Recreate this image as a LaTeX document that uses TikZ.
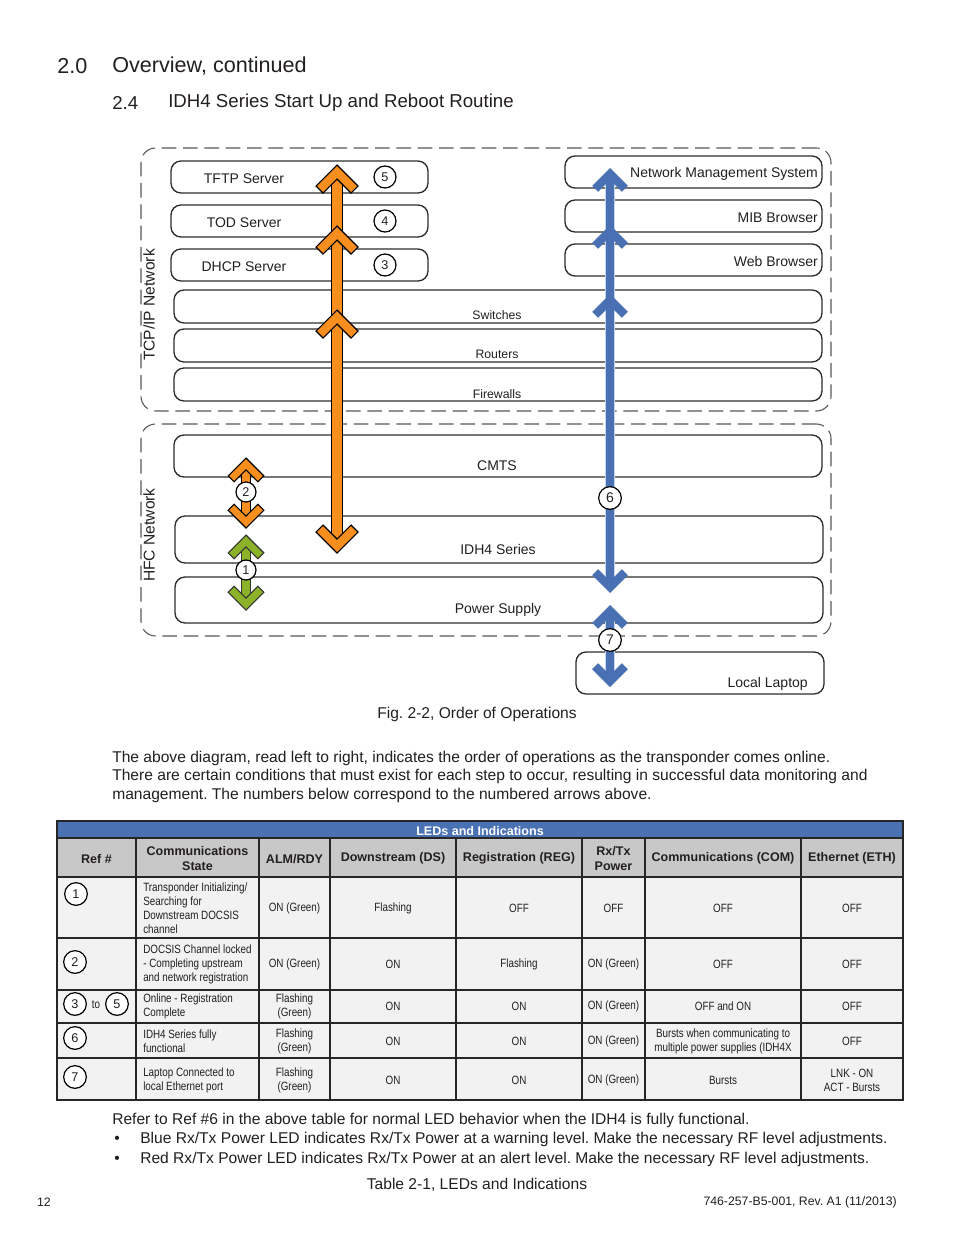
\documentclass[tikz,border=0pt]{standalone}
\usepackage{fontspec}
\setmainfont{Liberation Sans}
\newfontfamily\narrowfont[FakeStretch=0.82]{Liberation Sans}
\usetikzlibrary{positioning,fit}
\frenchspacing

\definecolor{txt}{RGB}{35,31,32}
\definecolor{boxline}{RGB}{45,45,45}
\definecolor{arrorange}{RGB}{247,142,30}
\definecolor{arrblue}{RGB}{73,112,178}
\definecolor{haloblue}{RGB}{198,214,236}
\definecolor{arrgreen}{RGB}{140,178,42}
\definecolor{tblblue}{RGB}{74,113,178}
\definecolor{tblhead}{RGB}{200,200,200}
\definecolor{tblbody}{RGB}{242,242,242}

\newcommand\fhead{\fontsize{16.2}{19}\selectfont}
\newcommand\fsub{\fontsize{14}{17}\selectfont}
\newcommand\fbody{\fontsize{11.7}{14}\selectfont}
\newcommand\fboxt{\fontsize{10.5}{12.6}\selectfont}
\newcommand\fsmall{\fontsize{9.2}{11}\selectfont}
\newcommand\fnum{\fontsize{9.5}{11}\selectfont}
\newcommand\fth{\fontsize{9.4}{11.25}\selectfont\bfseries}
\newcommand\ftd{\narrowfont\fontsize{9}{10.5}\selectfont}

\begin{document}
\begin{tikzpicture}[x=0.75pt,y=-0.75pt,text=txt,inner sep=0pt]
\tikzset{
  region/.style={draw=txt!75,line width=0.8pt,dash pattern=on 11pt off 5pt,rounded corners=11pt,inner sep=0pt},
  box/.style={draw=boxline,line width=1pt,rounded corners=7.5pt,inner sep=0pt},
  lower/.style={yshift=-1.2pt},
  boxlabel/.style={font=\fboxt,lower},
  layerlabel/.style={font=\fsmall,lower},
  netlabel/.style={font=\fbody,rotate=90},
  numcirc/.style={circle,draw=black,fill=white,line width=0.9pt,minimum size=16.5pt,inner sep=0pt,font=\fnum},
  chev/.pic={\path[pic actions] (0,0) -- (21,21) -- (14,28) -- (0,14) -- (-14,28) -- (-21,21) -- cycle;},
  ochev/.style={fill=arrorange,draw=black,line width=0.8pt},
  gchev/.style={fill=arrgreen,draw=black!80,line width=0.8pt},
  bchev/.style={fill=arrblue,preaction={draw=haloblue,line width=3pt}},
  oshaft/.style={draw=black,line width=0.75pt,double=arrorange,double distance=7pt},
  gshaft/.style={draw=black!80,line width=0.75pt,double=arrgreen,double distance=6pt},
  bshaft/.style={draw=haloblue,line width=1pt,double=arrblue,double distance=6pt},
  tblline/.style={draw=black!85,line width=0.8pt},
  thead/.style={font=\fth,align=center,lower},
  tcell/.style={font=\ftd,align=center,lower},
  body/.style={font=\fbody,anchor=west,lower}
}
\path[fill=white] (0,0) rectangle (954,1235);

% headings
\node[anchor=west,font=\fhead,lower] (secnum) at (57,64) {2.0};
\node[anchor=west,font=\fhead,lower] (sectitle) at (112,64) {Overview, continued};
\node[anchor=west,font=\fsub,lower] (subnum) at (112,101) {2.4};
\node[anchor=west,font=\fsub,lower] (subtitle) at (168,101) {IDH4 Series Start Up and Reboot Routine};

% network regions
\node[region,fit={(141,148) (831,411)}] (tcpip) {};
\node[region,fit={(141,424) (831,636)}] (hfc) {};
\node[netlabel] (tcpip-t) at (149,305) {TCP/IP Network};
\node[netlabel] (hfc-t) at (149,535) {HFC Network};

% boxes
\node[box,fit={(171,161) (428,193)}] (tftp) {};
\node[box,fit={(171,205) (428,237)}] (tod) {};
\node[box,fit={(171,249) (428,281)}] (dhcp) {};
\node[box,fit={(565,156) (822,188)}] (nms) {};
\node[box,fit={(565,200) (822,232)}] (mib) {};
\node[box,fit={(565,244) (822,276)}] (web) {};
\node[box,fit={(174,290) (822,323)}] (switches) {};
\node[box,fit={(174,329) (822,362)}] (routers) {};
\node[box,fit={(174,368) (822,401)}] (firewalls) {};
\node[box,fit={(174,435) (822,477)}] (cmts) {};
\node[box,fit={(175,516) (823,563)}] (idh) {};
\node[box,fit={(175,577) (823,623)}] (psu) {};
\node[box,fit={(576,652) (824,694)}] (laptop) {};

\node[boxlabel] (tftp-t) at (244,177) {TFTP Server};
\node[boxlabel] (tod-t) at (244,221) {TOD Server};
\node[boxlabel] (dhcp-t) at (244,265) {DHCP Server};
\node[boxlabel,anchor=east] (nms-t) at (818,172) {Network Management System};
\node[boxlabel,anchor=east] (mib-t) at (818,216) {MIB Browser};
\node[boxlabel,anchor=east] (web-t) at (818,260) {Web Browser};
\node[layerlabel] (switches-t) at (497,314) {Switches};
\node[layerlabel] (routers-t) at (497,353) {Routers};
\node[layerlabel] (firewalls-t) at (497,393) {Firewalls};
\node[boxlabel] (cmts-t) at (497,464) {CMTS};
\node[boxlabel] (idh-t) at (498,548) {IDH4 Series};
\node[boxlabel] (psu-t) at (498,608) {Power Supply};
\node[boxlabel,anchor=east] (laptop-t) at (808,682) {Local Laptop};
\node[numcirc] (n5) at (385,177) {5};
\node[numcirc] (n4) at (385,221) {4};
\node[numcirc] (n3) at (385,265) {3};

% orange arrow: IDH4 up to servers
\coordinate (o5) at (337,165);
\coordinate (o4) at (337,226);
\coordinate (o3) at (337,310);
\coordinate (oend) at (337,553);
\draw[oshaft] ([yshift=7.5pt]oend) -- ([yshift=-7.5pt]o5);
\foreach \c in {o5,o4,o3} \pic[ochev] at (\c) {chev};
\pic[ochev,rotate=180] at (oend) {chev};

% step 2 and step 1
\coordinate (o2up) at (246,458);
\coordinate (o2dn) at (246,528);
\draw[oshaft,double distance=6pt] ([yshift=-7pt]o2up) -- ([yshift=7pt]o2dn);
\pic[ochev,scale=0.85] at (o2up) {chev};
\pic[ochev,scale=0.85,rotate=180] at (o2dn) {chev};
\node[numcirc,minimum size=15pt] (n2) at (246,492) {2};
\coordinate (g1up) at (246,535);
\coordinate (g1dn) at (246,610);
\draw[gshaft] ([yshift=-7pt]g1up) -- ([yshift=7pt]g1dn);
\pic[gchev,scale=0.85] at (g1up) {chev};
\pic[gchev,scale=0.85,rotate=180] at (g1dn) {chev};
\node[numcirc,minimum size=15pt] (n1) at (246,570) {1};

% blue arrows
\coordinate (b1) at (610,168);
\coordinate (b2) at (610,225);
\coordinate (b3) at (610,294);
\coordinate (bend) at (610,593);
\draw[bshaft] ([yshift=7pt]bend) -- ([yshift=-7pt]b1);
\foreach \c in {b1,b2,b3} \pic[bchev,scale=0.85] at (\c) {chev};
\pic[bchev,scale=0.85,rotate=180] at (bend) {chev};
\node[numcirc,minimum size=17pt,font=\fboxt] (n6) at (610,498) {6};
\coordinate (b7up) at (610,605);
\coordinate (b7dn) at (610,687);
\draw[bshaft] ([yshift=-7pt]b7up) -- ([yshift=7pt]b7dn);
\pic[bchev,scale=0.85] at (b7up) {chev};
\pic[bchev,scale=0.85,rotate=180] at (b7dn) {chev};
\node[numcirc,minimum size=17pt,font=\fboxt] (n7) at (610,640) {7};

\node[font=\fbody,lower] (figcap) at (477,713) {Fig. 2-2, Order of Operations};

% text
\node[body] (para1) at (112,757) {The above diagram, read left to right, indicates the order of operations as the transponder comes online.};
\node[body] (para2) at (112,775) {There are certain conditions that must exist for each step to occur, resulting in successful data monitoring and};
\node[body] (para3) at (112,794) {management. The numbers below correspond to the numbered arrows above.};

% table
\fill[tblblue] (57,821) rectangle (903,838);
\fill[tblhead] (57,838) rectangle (903,877);
\fill[tblbody] (57,877) rectangle (903,1100);
\foreach \yy in {838,877,938,990,1023,1058} \draw[tblline] (57,\yy) -- (903,\yy);
\foreach \xx in {136,259,330,456,582,645,801} \draw[tblline] (\xx,838) -- (\xx,1100);
\draw[tblline] (57,821) rectangle (903,1100);
\node[font=\fth,text=white,lower] (tbltitle) at (480,829) {LEDs and Indications};
\foreach \xx/\hd [count=\i] in {96.5/Ref \#, 197.5/{Communications\\State}, 294.5/{ALM/RDY}, 393/Downstream (DS), 519/Registration (REG), 613.5/{Rx/Tx\\Power}, 723/Communications (COM), 852/Ethernet (ETH)}
  \node[thead] (h\i) at (\xx,857) {\hd};
\foreach \yy/\st/\va/\vb/\vc/\vd/\ve/\vf [count=\r] in {
  907/{Transponder Initializing/\\Searching for\\Downstream DOCSIS\\channel}/ON (Green)/Flashing/OFF/OFF/OFF/OFF,
  963/{DOCSIS Channel locked\\- Completing upstream\\and network registration}/ON (Green)/ON/Flashing/ON (Green)/OFF/OFF,
  1005/{Online - Registration\\Complete}/{Flashing\\(Green)}/ON/ON/ON (Green)/OFF and ON/OFF,
  1040/{IDH4 Series fully\\functional}/{Flashing\\(Green)}/ON/ON/ON (Green)/{Bursts when communicating to\\multiple power supplies (IDH4X}/OFF,
  1079/{Laptop Connected to\\local Ethernet port}/{Flashing\\(Green)}/ON/ON/ON (Green)/Bursts/{LNK - ON\\ACT - Bursts}}
{
  \node[tcell,anchor=west,align=left] (st\r) at (143,\yy) {\st};
  \node[tcell] (alm\r) at (294.5,\yy) {\va};
  \node[tcell] (ds\r) at (393,\yy) {\vb};
  \node[tcell] (reg\r) at (519,\yy) {\vc};
  \node[tcell] (rxtx\r) at (613.5,\yy) {\vd};
  \node[tcell] (com\r) at (723,\yy) {\ve};
  \node[tcell] (eth\r) at (852,\yy) {\vf};
}
\node[numcirc,minimum size=17pt] (ref1) at (76,894) {1};
\node[numcirc,minimum size=17pt] (ref2) at (75,962) {2};
\node[numcirc,minimum size=17pt] (ref3) at (75,1004) {3};
\node[font=\ftd] (refto) at (96,1005) {to};
\node[numcirc,minimum size=17pt] (ref5) at (117,1004) {5};
\node[numcirc,minimum size=17pt] (ref6) at (75,1038) {6};
\node[numcirc,minimum size=17pt] (ref7) at (75,1077) {7};

% notes
\node[body] (note) at (112,1119) {Refer to Ref \#6 in the above table for normal LED behavior when the IDH4 is fully functional.};
\node[body] (bul1) at (114,1138) {•};
\node[body] (item1) at (140,1138) {Blue Rx/Tx Power LED indicates Rx/Tx Power at a warning level. Make the necessary RF level adjustments.};
\node[body] (bul2) at (114,1158) {•};
\node[body] (item2) at (140,1158) {Red Rx/Tx Power LED indicates Rx/Tx Power at an alert level. Make the necessary RF level adjustments.};
\node[font=\fbody,lower] (tblcap) at (477,1183) {Table 2-1, LEDs and Indications};
\node[font=\fsmall,lower] (pgno) at (44,1201) {12};
\node[font=\fsmall,anchor=east,lower] (docno) at (897,1201) {746-257-B5-001, Rev. A1 (11/2013)};
\end{tikzpicture}
\end{document}
